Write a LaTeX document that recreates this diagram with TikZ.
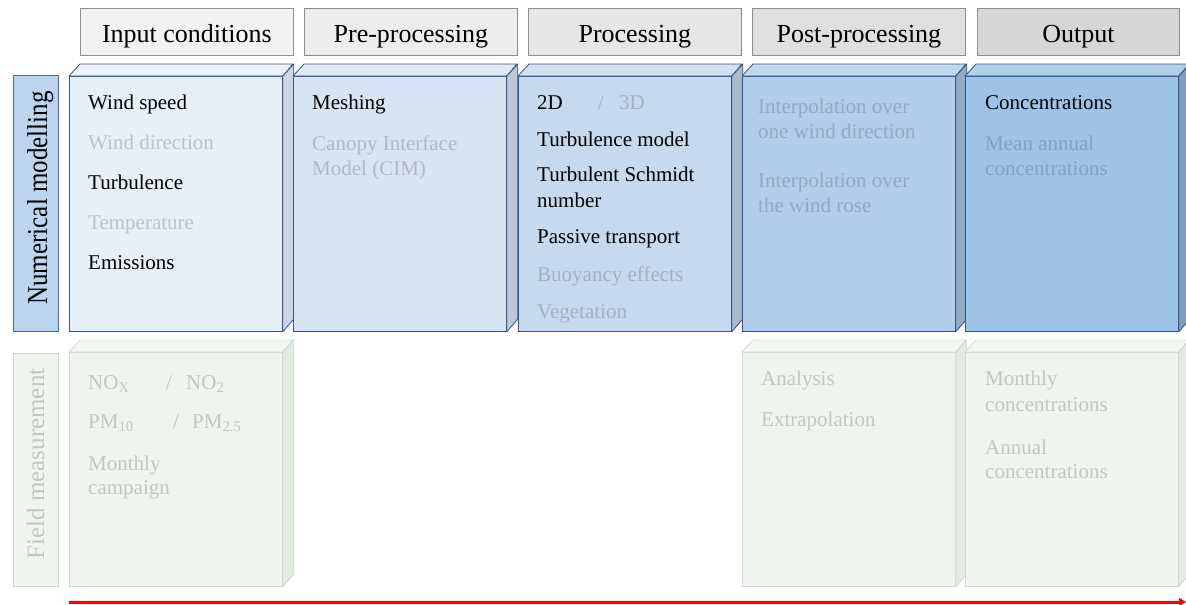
\documentclass[tikz,border=0pt]{standalone}
\usepackage{fontspec}
\setmainfont{Liberation Serif}
\usepackage{graphicx}
\usetikzlibrary{arrows.meta}
\definecolor{hA}{HTML}{F2F2F2}
\definecolor{hB}{HTML}{EDEDED}
\definecolor{hC}{HTML}{E6E6E6}
\definecolor{hD}{HTML}{DFDFDF}
\definecolor{hE}{HTML}{D6D6D6}
\definecolor{hline}{HTML}{8F8F8F}
\definecolor{aF}{HTML}{E7EFF9}\colorlet{aT}{aF!80!white}\definecolor{aS}{HTML}{CDD6E2}
\definecolor{bF}{HTML}{D6E4F3}\colorlet{bT}{bF!80!white}\definecolor{bS}{HTML}{BCC8D7}
\definecolor{cF}{HTML}{C5D9EF}\colorlet{cT}{cF!80!white}\definecolor{cS}{HTML}{AABACD}
\definecolor{dF}{HTML}{B1CDEA}\colorlet{dT}{dF!80!white}\definecolor{dS}{HTML}{93AAC3}
\definecolor{eF}{HTML}{9DC3E6}\colorlet{eT}{eF!80!white}\definecolor{eS}{HTML}{7F9DBD}
\definecolor{gF}{HTML}{EFF5EE}\colorlet{gT}{gF!70!white}\definecolor{gS}{HTML}{E2EAE1}
\definecolor{bline}{HTML}{35558A}
\definecolor{gline}{HTML}{CFDCCF}
\definecolor{lblfill}{HTML}{BDD4EE}
\definecolor{lblline}{HTML}{4A6FA0}
\newcommand\mybox[6]{%
  \node[face, fill=#5F, draw=#6, minimum height=#4pt] (#1) at (#2,#3) {};
  \filldraw[fill=#5T, draw=#6, line width=0.8pt, line join=round] (#1.north west) -- ++(11,-12) -- ++(213,0) -- (#1.north east) -- cycle;
  \filldraw[fill=#5S, draw=#6, line width=0.8pt, line join=round] (#1.north east) -- ++(11,-12) -- ++(0,#4) -- (#1.south east) -- cycle;
}
\begin{document}
\begin{tikzpicture}[x=1pt,y=-1pt,
  hdr/.style={draw=hline, line width=0.8pt, minimum width=213pt, minimum height=47pt,
    anchor=north west, inner sep=0pt, text height=22pt, text depth=0pt,
    font=\fontsize{26}{30}\selectfont},
  face/.style={line width=0.8pt, minimum width=213pt, anchor=north west, inner sep=0pt},
  txt/.style={anchor=base west, inner sep=0pt, font=\fontsize{21}{25}\selectfont},
  dim/.style={txt, text=black!75, text opacity=0.25},
  vlbl/.style={rotate=90, anchor=base, inner sep=0pt, font=\fontsize{25}{30}\selectfont}]
\useasboundingbox (0,0) rectangle (1186,605);
% headers
\node[hdr, fill=hA] (h1) at (80,8) {Input conditions};
\node[hdr, fill=hB] (h2) at (304,8) {Pre-processing};
\node[hdr, fill=hC] (h3) at (528,8) {Processing};
\node[hdr, fill=hD] (h4) at (752,8) {Post-processing};
\node[hdr, fill=hE, minimum width=202pt] (h5) at (977,8) {Output};
% row labels
\node[draw=lblline, fill=lblfill, line width=0.8pt, minimum width=45pt, minimum height=256pt, anchor=north west, inner sep=0pt] (l1) at (13,75) {};
\node[vlbl] (l1t) at (47,198) {\scalebox{1}[1.15]{Numerical modelling}};
\node[draw=gline, fill=gF, line width=0.8pt, minimum width=45pt, minimum height=233pt, anchor=north west, inner sep=0pt] (l2) at (13,353) {};
\node[vlbl, text=black!75, text opacity=0.25] (l2t) at (44,464) {Field measurement};
% numerical boxes
\mybox{n1}{69}{76}{255}{a}{bline}
\mybox{n2}{293}{76}{255}{b}{bline}
\mybox{n3}{518}{76}{255}{c}{bline}
\mybox{n4}{742}{76}{255}{d}{bline}
\mybox{n5}{965}{76}{255}{e}{bline}
% field boxes
\mybox{f1}{69}{352}{234}{g}{gline}
\mybox{f4}{742}{352}{234}{g}{gline}
\mybox{f5}{965}{352}{234}{g}{gline}
% input conditions texts
\node[txt] (a1) at (88,109) {Wind speed};
\node[dim] (a2) at (88,149) {Wind direction};
\node[txt] (a3) at (88,189) {Turbulence};
\node[dim] (a4) at (88,229) {Temperature};
\node[txt] (a5) at (88,269) {Emissions};
% pre-processing
\node[txt] (b1) at (312,109) {Meshing};
\node[dim] (b2) at (312,150) {Canopy Interface};
\node[dim] (b3) at (312,175) {Model (CIM)};
% processing
\node[txt] (c1) at (537,109) {2D};
\node[dim] (c1s) at (598,109) {/};
\node[dim] (c1b) at (619,109) {3D};
\node[txt] (c2) at (537,146) {Turbulence model};
\node[txt] (c3) at (537,181) {Turbulent Schmidt};
\node[txt] (c4) at (537,207) {number};
\node[txt] (c5) at (537,243) {Passive transport};
\node[dim] (c6) at (537,281) {Buoyancy effects};
\node[dim] (c7) at (537,318) {Vegetation};
% post-processing
\node[dim] (d1) at (758,113) {Interpolation over};
\node[dim] (d2) at (758,138) {one wind direction};
\node[dim] (d3) at (758,187) {Interpolation over};
\node[dim] (d4) at (758,212) {the wind rose};
% output
\node[txt] (e1) at (985,109) {Concentrations};
\node[dim] (e2) at (985,150) {Mean annual};
\node[dim] (e3) at (985,175) {concentrations};
% field measurement texts
\node[dim] (g1) at (88,389) {NO\textsubscript{X}};
\node[dim] (g1s) at (166,389) {/};
\node[dim] (g1b) at (186,389) {NO\textsubscript{2}};
\node[dim] (g2) at (88,428) {PM\textsubscript{10}};
\node[dim] (g2s) at (173,428) {/};
\node[dim] (g2b) at (192,428) {PM\textsubscript{2.5}};
\node[dim] (g3) at (88,470) {Monthly};
\node[dim] (g4) at (88,494) {campaign};
\node[dim] (p1) at (761,385) {Analysis};
\node[dim] (p2) at (761,426) {Extrapolation};
\node[dim] (o1) at (985,385) {Monthly};
\node[dim] (o2) at (985,411) {concentrations};
\node[dim] (o3) at (985,454) {Annual};
\node[dim] (o4) at (985,478) {concentrations};
% arrow
\coordinate (ar0) at (69,602);
\coordinate (ar1) at (1186,602);
\draw[red, line width=3pt, -{Triangle[length=7pt,width=8pt]}] (ar0) -- (ar1);
\end{tikzpicture}
\end{document}
